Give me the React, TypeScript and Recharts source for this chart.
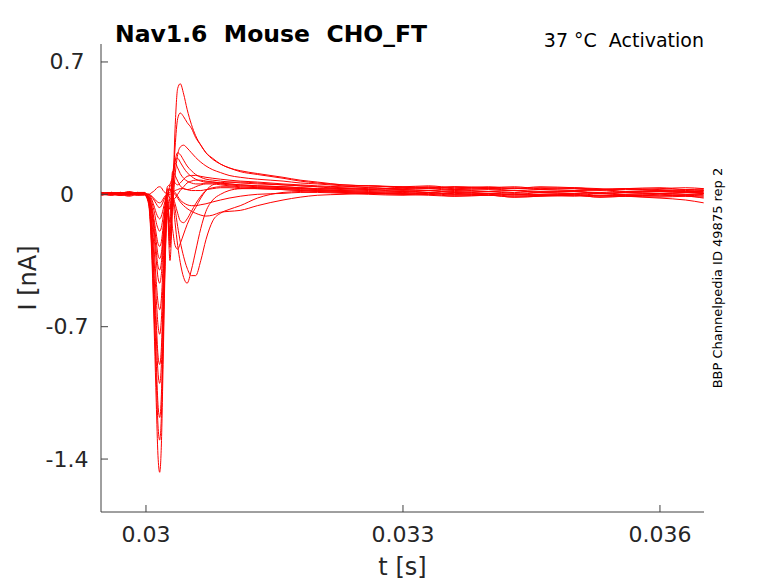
import React from 'react';
import { LineChart, Line, XAxis, YAxis, Label } from 'recharts';

// time samples (s)
const times = [0.02948, 0.0296, 0.0297, 0.0298, 0.0299, 0.02998, 0.03003, 0.03007, 0.0301, 0.03012, 0.03014, 0.03016, 0.03018, 0.0302, 0.03022, 0.03025, 0.03028, 0.03031, 0.03034, 0.03037, 0.0304, 0.03044, 0.03048, 0.03053, 0.03058, 0.03064, 0.0307, 0.03078, 0.03087, 0.03097, 0.0311, 0.0313, 0.0316, 0.0318, 0.032, 0.0323, 0.0326, 0.033, 0.0333, 0.0336, 0.034, 0.0343, 0.0346, 0.035, 0.0353, 0.0356, 0.036, 0.0363, 0.03651];

// current traces (nA)
const trace1 = [0.01, -0.005, 0.01, 0.005, 0.01, 0.0, -0.05, -0.35, -0.78, -1.1, -1.38, -1.47, -1.32, -0.9, -0.45, -0.1, -0.35, -0.05, 0.35, 0.56, 0.585, 0.53, 0.45, 0.37, 0.31, 0.26, 0.22, 0.19, 0.16, 0.14, 0.12, 0.105, 0.085, 0.07, 0.06, 0.05, 0.045, 0.04, 0.035, 0.04, 0.03, 0.035, 0.025, 0.03, 0.025, 0.03, 0.02, 0.025, 0.02];
const trace2 = [0.005, 0.01, 0.0, 0.01, 0.0, 0.005, -0.04, -0.31, -0.69, -0.97, -1.22, -1.3, -1.17, -0.8, -0.4, -0.08, -0.28, 0.0, 0.25, 0.4, 0.43, 0.41, 0.38, 0.35, 0.3, 0.26, 0.22, 0.185, 0.16, 0.14, 0.125, 0.11, 0.09, 0.075, 0.065, 0.05, 0.045, 0.04, 0.045, 0.035, 0.04, 0.03, 0.035, 0.03, 0.025, 0.03, 0.025, 0.02, 0.025];
const trace3 = [0.0, 0.01, 0.005, -0.005, 0.005, 0.0, -0.04, -0.28, -0.63, -0.88, -1.11, -1.18, -1.06, -0.72, -0.36, -0.06, -0.25, -0.08, 0.1, 0.21, 0.25, 0.26, 0.245, 0.22, 0.195, 0.17, 0.15, 0.13, 0.115, 0.1, 0.09, 0.08, 0.07, 0.06, 0.055, 0.045, 0.035, 0.03, 0.035, 0.025, 0.03, 0.02, 0.025, 0.02, 0.025, 0.015, 0.02, 0.015, 0.02];
const trace4 = [0.01, 0.0, 0.01, 0.005, 0.01, 0.005, -0.03, -0.24, -0.53, -0.75, -0.94, -1.0, -0.9, -0.61, -0.31, -0.05, -0.22, 0.0, 0.17, 0.22, 0.21, 0.18, 0.15, 0.125, 0.105, 0.09, 0.08, 0.075, 0.07, 0.065, 0.06, 0.055, 0.05, 0.045, 0.04, 0.03, 0.035, 0.025, 0.02, 0.025, 0.015, 0.02, 0.01, 0.015, 0.02, 0.01, 0.015, 0.01, 0.01];
const trace5 = [0.0, 0.005, -0.005, 0.005, 0.0, 0.01, -0.03, -0.21, -0.48, -0.67, -0.85, -0.9, -0.81, -0.55, -0.28, -0.04, -0.2, 0.05, 0.18, 0.19, 0.17, 0.14, 0.115, 0.095, 0.08, 0.07, 0.065, 0.065, 0.06, 0.055, 0.05, 0.045, 0.04, 0.035, 0.03, 0.025, 0.02, 0.015, 0.02, 0.01, 0.015, 0.005, 0.01, 0.015, 0.005, 0.01, 0.005, 0.01, 0.005];
const trace6 = [0.005, 0.0, 0.01, 0.0, 0.005, 0.0, -0.025, -0.18, -0.39, -0.55, -0.69, -0.74, -0.66, -0.45, -0.23, -0.03, -0.15, 0.1, 0.165, 0.14, 0.11, 0.085, 0.07, 0.06, 0.055, 0.055, 0.06, 0.06, 0.055, 0.05, 0.045, 0.04, 0.035, 0.03, 0.025, 0.02, 0.015, 0.02, 0.01, 0.015, 0.005, 0.01, 0.0, 0.005, 0.01, 0.0, 0.005, 0.0, 0.005];
const trace7 = [0.01, 0.005, 0.0, 0.01, 0.0, 0.005, -0.02, -0.15, -0.32, -0.46, -0.57, -0.61, -0.55, -0.37, -0.19, -0.02, -0.08, 0.12, 0.1, 0.07, 0.045, 0.03, 0.025, 0.03, 0.04, 0.05, 0.055, 0.055, 0.05, 0.045, 0.04, 0.035, 0.03, 0.025, 0.02, 0.015, 0.01, 0.005, 0.01, 0.0, 0.005, -0.005, 0.0, 0.005, -0.005, 0.0, 0.005, 0.0, -0.005];
const trace8 = [-0.005, 0.005, 0.01, 0.0, 0.005, 0.0, -0.015, -0.11, -0.25, -0.35, -0.44, -0.47, -0.42, -0.29, -0.14, -0.02, 0.05, 0.08, 0.06, 0.05, 0.06, 0.08, 0.095, 0.1, 0.1, 0.095, 0.09, 0.085, 0.08, 0.075, 0.07, 0.065, 0.055, 0.05, 0.045, 0.04, 0.045, 0.035, 0.04, 0.03, 0.035, 0.04, 0.03, 0.035, 0.025, 0.03, 0.035, 0.025, 0.03];
const trace9 = [0.0, -0.005, 0.005, 0.0, 0.01, 0.01, -0.015, -0.1, -0.21, -0.3, -0.38, -0.4, -0.36, -0.24, -0.12, 0.04, 0.05, 0.0, -0.15, -0.27, -0.36, -0.44, -0.47, -0.4, -0.3, -0.18, -0.09, -0.03, 0.0, 0.02, 0.03, 0.035, 0.03, 0.03, 0.025, 0.02, 0.025, 0.015, 0.02, 0.01, 0.015, 0.02, 0.01, 0.015, 0.005, 0.01, 0.015, 0.01, 0.005];
const trace10 = [0.005, 0.0, -0.005, 0.005, -0.005, 0.0, -0.01, -0.08, -0.18, -0.25, -0.32, -0.34, -0.31, -0.21, -0.1, 0.02, 0.03, -0.02, -0.08, -0.17, -0.25, -0.33, -0.39, -0.43, -0.43, -0.35, -0.24, -0.14, -0.1, -0.08, -0.06, -0.02, 0.01, 0.015, 0.02, 0.015, 0.01, 0.005, 0.01, 0.0, 0.005, 0.0, -0.005, 0.0, 0.005, -0.005, 0.0, -0.005, 0.0];
const trace11 = [-0.005, 0.005, 0.0, -0.01, 0.0, 0.005, -0.01, -0.065, -0.15, -0.21, -0.26, -0.275, -0.25, -0.17, -0.085, 0.03, -0.05, -0.18, -0.27, -0.29, -0.26, -0.21, -0.16, -0.11, -0.07, -0.02, 0.02, 0.05, 0.06, 0.065, 0.065, 0.06, 0.05, 0.045, 0.04, 0.035, 0.03, 0.025, 0.03, 0.02, 0.025, 0.02, 0.015, 0.02, 0.025, 0.015, 0.02, 0.015, 0.015];
const trace12 = [0.0, 0.01, -0.005, 0.005, 0.0, 0.0, -0.005, -0.045, -0.1, -0.15, -0.18, -0.195, -0.175, -0.12, -0.06, 0.0, 0.02, 0.01, 0.0, -0.02, -0.04, -0.06, -0.075, -0.09, -0.1, -0.11, -0.115, -0.11, -0.095, -0.09, -0.085, -0.06, -0.03, -0.015, -0.005, 0.0, 0.005, 0.0, -0.005, -0.01, -0.005, -0.015, -0.01, -0.005, -0.015, -0.01, -0.005, -0.01, -0.015];
const trace13 = [0.01, 0.0, 0.005, 0.01, -0.005, -0.005, 0.0, -0.03, -0.07, -0.1, -0.12, -0.13, -0.115, -0.08, -0.04, 0.0, 0.03, 0.0, -0.05, -0.1, -0.14, -0.15, -0.13, -0.09, -0.05, -0.01, 0.02, 0.035, 0.04, 0.04, 0.035, 0.03, 0.025, 0.02, 0.015, 0.01, 0.005, 0.0, 0.005, -0.005, 0.0, -0.01, -0.005, 0.0, -0.01, -0.005, -0.01, -0.005, -0.01];
const trace14 = [0.0, 0.005, 0.0, -0.005, 0.005, 0.005, 0.0, -0.015, -0.035, -0.05, -0.065, -0.07, -0.06, -0.04, -0.02, 0.0, 0.01, 0.02, 0.01, -0.01, -0.03, -0.045, -0.055, -0.06, -0.06, -0.055, -0.05, -0.04, -0.03, -0.02, -0.01, 0.0, 0.005, 0.01, 0.01, 0.005, 0.0, -0.005, 0.0, -0.01, -0.005, -0.015, -0.01, -0.005, -0.015, -0.01, -0.015, -0.01, -0.02];
const trace15 = [0.005, 0.0, -0.005, 0.0, 0.005, 0.0, 0.0, -0.01, -0.025, -0.035, -0.042, -0.045, -0.04, -0.025, -0.01, 0.0, 0.0, 0.01, 0.02, 0.025, 0.03, 0.03, 0.025, 0.02, 0.02, 0.02, 0.025, 0.03, 0.035, 0.035, 0.03, 0.03, 0.025, 0.02, 0.015, 0.01, 0.005, 0.01, 0.0, 0.005, -0.005, 0.0, -0.005, -0.01, -0.005, -0.01, -0.02, -0.03, -0.045];
const trace16 = [0.0, 0.01, 0.005, 0.015, 0.005, 0.0, 0.0, 0.01, 0.02, 0.03, 0.038, 0.04, 0.035, 0.02, 0.01, 0.0, -0.02, -0.03, -0.02, 0.0, 0.02, 0.04, 0.06, 0.07, 0.075, 0.075, 0.07, 0.065, 0.06, 0.055, 0.05, 0.045, 0.04, 0.035, 0.03, 0.03, 0.025, 0.035, 0.03, 0.04, 0.035, 0.03, 0.04, 0.035, 0.03, 0.025, 0.03, 0.035, 0.03];

const traces = [trace1, trace2, trace3, trace4, trace5, trace6, trace7, trace8, trace9, trace10, trace11, trace12, trace13, trace14, trace15, trace16];

const xTicks = [0.03, 0.033, 0.036];
const yTicks = [-1.4, -0.7, 0, 0.7];
const xDomain = [0.029475, 0.036514];
const yDomain = [-1.68, 0.795];

const titleText = 'Nav1.6  Mouse  CHO_FT';
const subtitleText = '37 °C  Activation';
const sideText = 'BBP Channelpedia ID 49875 rep 2';
const xLabel = 't [s]';
const yLabel = 'I [nA]';

const rows = times.map((t, i) => {
  const r: Record<string, number> = { t };
  traces.forEach((tr, k) => {
    r['s' + k] = tr[i];
  });
  return r;
});

const FONT = 'DejaVu Sans';
const AXIS = '#404040';
const TXT = '#262626';

const YTick = (props: any) => {
  const { x, y, payload } = props;
  return (
    <g>
      <line x1={x} x2={x + 7} y1={y} y2={y} stroke={AXIS} strokeWidth={1} />
      <text x={x - 34} y={y} textAnchor="middle" dominantBaseline="central" fontSize={22} fill={TXT} fontFamily={FONT}>
        {String(payload.value)}
      </text>
    </g>
  );
};

const XTick = (props: any) => {
  const { x, y, payload } = props;
  return (
    <g>
      <line x1={x} x2={x} y1={y} y2={y - 7} stroke={AXIS} strokeWidth={1} />
      <text x={x} y={y + 22} textAnchor="middle" dominantBaseline="central" fontSize={22} fill={TXT} fontFamily={FONT}>
        {String(payload.value)}
      </text>
    </g>
  );
};

const renderYLabel = (props: any) => {
  const vb = props.viewBox || {};
  const cx = vb.x + 7;
  const cy = vb.y + vb.height / 2;
  return (
    <text x={cx} y={cy} transform={`rotate(-90 ${cx} ${cy})`} textAnchor="middle" dominantBaseline="central" fontSize={24} fill={TXT} fontFamily={FONT}>
      {yLabel}
    </text>
  );
};

const renderXLabel = (props: any) => {
  const vb = props.viewBox || {};
  const cx = vb.x + vb.width / 2;
  const cy = vb.y + 55;
  return (
    <text x={cx} y={cy} textAnchor="middle" dominantBaseline="central" fontSize={24} fill={TXT} fontFamily={FONT}>
      {xLabel}
    </text>
  );
};

export default function App() {
  return (
    <div style={{ position: 'relative', width: 770, height: 575 }}>
      <LineChart width={770} height={575} data={rows} margin={{ top: 36, right: 74, bottom: 5, left: 13 }}>
        <XAxis
          type="number"
          dataKey="t"
          domain={xDomain}
          ticks={xTicks}
          allowDataOverflow
          height={66}
          tickSize={0}
          tickMargin={0}
          tickLine={false}
          axisLine={{ stroke: AXIS, strokeWidth: 1 }}
          tick={<XTick />}
        >
          <Label content={renderXLabel} />
        </XAxis>
        <YAxis
          type="number"
          domain={yDomain}
          ticks={yTicks}
          allowDataOverflow
          width={80}
          tickSize={0}
          tickMargin={0}
          tickLine={false}
          axisLine={{ stroke: AXIS, strokeWidth: 1 }}
          tick={<YTick />}
        >
          <Label content={renderYLabel} />
        </YAxis>
        {traces.map((_, k) => (
          <Line
            key={k}
            type="monotone"
            dataKey={'s' + k}
            stroke="#ff0000"
            strokeWidth={1}
            dot={false}
            activeDot={false}
            isAnimationActive={false}
          />
        ))}
      </LineChart>
      <svg width={770} height={575} style={{ position: 'absolute', left: 0, top: 0, pointerEvents: 'none' }}>
        <text x={107} y={34} fontSize={23.5} fontWeight="bold" fill="#000" fontFamily={FONT} style={{ whiteSpace: 'pre' }}>
          {titleText}
        </text>
        <text x={696} y={39} textAnchor="end" fontSize={19} fill="#000" fontFamily={FONT} style={{ whiteSpace: 'pre' }}>
          {subtitleText}
        </text>
        <text x={709} y={270} transform="rotate(-90 709 270)" textAnchor="middle" dominantBaseline="central" fontSize={13} fill="#000" fontFamily={FONT}>
          {sideText}
        </text>
      </svg>
    </div>
  );
}
